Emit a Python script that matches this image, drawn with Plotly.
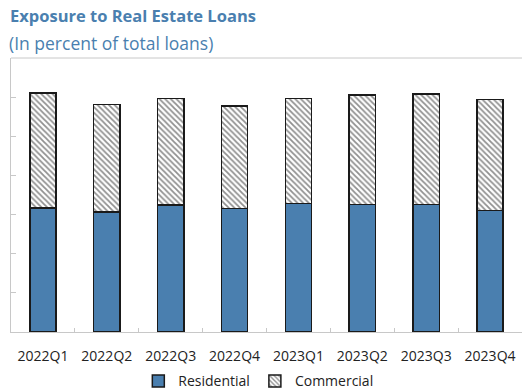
import plotly.graph_objects as go

quarters = ["2022Q1", "2022Q2", "2022Q3", "2022Q4", "2023Q1", "2023Q2", "2023Q3", "2023Q4"]
residential = [31.7, 30.6, 32.4, 31.5, 32.8, 32.6, 32.6, 31.1]
commercial = [29.3, 27.5, 27.2, 26.2, 26.9, 28.0, 28.2, 28.3]

BLUE = "#4A7FAF"
GRID = "#C8C8C8"
FONT = "Open Sans"

fig = go.Figure()
fig.add_trace(go.Bar(
    x=quarters, y=residential, name="Residential",
    marker=dict(color=BLUE, line=dict(color="#1a1a1a", width=1.5)),
))
fig.add_trace(go.Bar(
    x=quarters, y=commercial, name="Commercial",
    marker=dict(color="white", line=dict(color="#1a1a1a", width=1.5),
                pattern=dict(shape="\\", fgcolor="#222222", bgcolor="white", size=4, solidity=0.45)),
))

fig.update_layout(
    barmode="stack",
    bargap=0.59,
    width=522, height=392,
    margin=dict(l=11, r=0, t=58, b=60, autoexpand=False),
    paper_bgcolor="white", plot_bgcolor="white",
    font=dict(family=FONT, color="#222222", size=14),
    showlegend=True,
    legend=dict(orientation="h", x=0.484, xanchor="center", y=-0.18, yanchor="middle",
                font=dict(size=14, family=FONT, color="#222222"), itemwidth=30,
                traceorder="normal"),
    annotations=[
        dict(text="<b>Exposure to Real Estate Loans</b>", xref="paper", yref="paper",
             x=0, xanchor="left", xshift=-3, y=1, yanchor="bottom", yshift=29, showarrow=False,
             font=dict(family=FONT, size=16.5, color=BLUE)),
        dict(text="(In percent of total loans)", xref="paper", yref="paper",
             x=0, xanchor="left", xshift=-4, y=1, yanchor="bottom", yshift=1, showarrow=False,
             font=dict(family=FONT, size=17.5, color=BLUE)),
    ],
    shapes=[dict(type="line", xref="paper", yref="paper", x0=0, x1=1, y0=1, y1=1,
                 line=dict(color=GRID, width=1))],
)
fig.update_xaxes(
    showline=True, linecolor=GRID, linewidth=1,
    ticks="inside", tickson="boundaries", ticklen=4, tickcolor=GRID,
    showgrid=False, tickfont=dict(size=14, color="#222222"),
    automargin=False, ticklabelstandoff=11,
)
fig.update_yaxes(
    range=[0, 70], dtick=10, showticklabels=False,
    showline=True, linecolor=GRID, linewidth=1,
    ticks="inside", ticklen=5, tickcolor=GRID,
    showgrid=False, zeroline=False, automargin=False,
)

fig.write_html("out.html", config={"displayModeBar": False},
               post_script="document.body.style.margin='0';")
